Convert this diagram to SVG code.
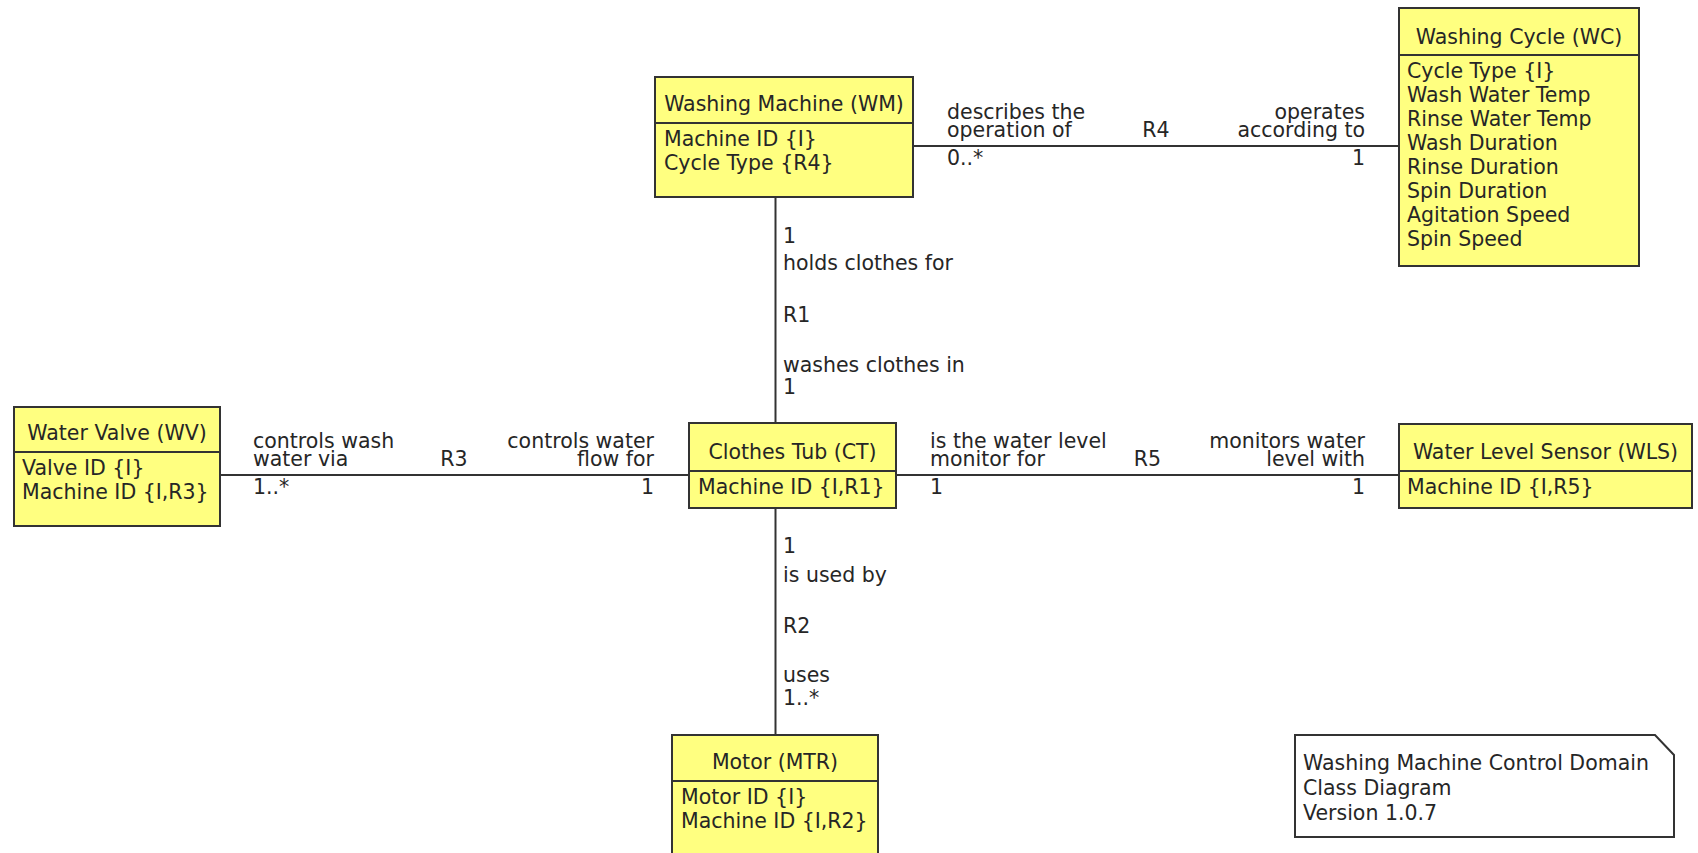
<svg xmlns="http://www.w3.org/2000/svg" width="1698" height="853" viewBox="0 0 1698 853">
<style>
.box{fill:#ffff80;stroke:#333;stroke-width:2}
.div{stroke:#333;stroke-width:2}
.conn{stroke:#333;stroke-width:2;fill:none}
.note{fill:#fff;stroke:#333;stroke-width:2}
text{font-family:"DejaVu Sans",sans-serif;font-size:20.5px;fill:#262626}
.h{text-anchor:middle}
.e{text-anchor:end}
</style>
<rect width="1698" height="853" fill="#fff"/>
<g id="connectors">
<line class="conn" x1="913" y1="146" x2="1399" y2="146"/>
<line class="conn" x1="220" y1="475" x2="689" y2="475"/>
<line class="conn" x1="896" y1="475" x2="1399" y2="475"/>
<line class="conn" x1="775.5" y1="197" x2="775.5" y2="423"/>
<line class="conn" x1="775.5" y1="508" x2="775.5" y2="735"/>
<g id="R4-labels">
<text x="947" y="119">describes the</text>
<text x="947" y="137">operation of</text>
<text x="1156" y="137" class="h">R4</text>
<text x="1365" y="119" class="e">operates</text>
<text x="1365" y="137" class="e">according to</text>
<text x="947" y="165">0..*</text>
<text x="1365" y="165" class="e">1</text>
</g>
<g id="R3-labels">
<text x="253" y="448">controls wash</text>
<text x="253" y="466">water via</text>
<text x="454" y="466" class="h">R3</text>
<text x="654" y="448" class="e">controls water</text>
<text x="654" y="466" class="e">flow for</text>
<text x="253" y="494">1..*</text>
<text x="654" y="494" class="e">1</text>
</g>
<g id="R5-labels">
<text x="930" y="448">is the water level</text>
<text x="930" y="466">monitor for</text>
<text x="1147.5" y="466" class="h">R5</text>
<text x="1365" y="448" class="e">monitors water</text>
<text x="1365" y="466" class="e">level with</text>
<text x="930" y="494">1</text>
<text x="1365" y="494" class="e">1</text>
</g>
<g id="R1-labels">
<text x="783" y="243">1</text>
<text x="783" y="270">holds clothes for</text>
<text x="783" y="322">R1</text>
<text x="783" y="372">washes clothes in</text>
<text x="783" y="394">1</text>
</g>
<g id="R2-labels">
<text x="783" y="553">1</text>
<text x="783" y="582">is used by</text>
<text x="783" y="633">R2</text>
<text x="783" y="682">uses</text>
<text x="783" y="705">1..*</text>
</g>
</g>
<g id="WM">
<rect class="box" x="655" y="77" width="258" height="120"/>
<line class="div" x1="655" y1="123" x2="913" y2="123"/>
<text x="784" y="111" class="h">Washing Machine (WM)</text>
<text x="664" y="146">Machine ID  {I}</text>
<text x="664" y="170">Cycle Type {R4}</text>
</g>
<g id="WC">
<rect class="box" x="1399" y="8" width="240" height="258"/>
<line class="div" x1="1399" y1="55" x2="1639" y2="55"/>
<text x="1519" y="44" class="h">Washing Cycle (WC)</text>
<text x="1407" y="78">Cycle Type {I}</text>
<text x="1407" y="102">Wash Water Temp</text>
<text x="1407" y="126">Rinse Water Temp</text>
<text x="1407" y="150">Wash Duration</text>
<text x="1407" y="174">Rinse Duration</text>
<text x="1407" y="198">Spin Duration</text>
<text x="1407" y="222">Agitation Speed</text>
<text x="1407" y="246">Spin Speed</text>
</g>
<g id="WV">
<rect class="box" x="14" y="407" width="206" height="119"/>
<line class="div" x1="14" y1="452" x2="220" y2="452"/>
<text x="117" y="440" class="h">Water Valve (WV)</text>
<text x="22" y="475">Valve ID  {I}</text>
<text x="22" y="499">Machine ID  {I,R3}</text>
</g>
<g id="CT">
<rect class="box" x="689" y="423" width="207" height="85"/>
<line class="div" x1="689" y1="471" x2="896" y2="471"/>
<text x="792.5" y="459" class="h">Clothes Tub (CT)</text>
<text x="698" y="494">Machine ID  {I,R1}</text>
</g>
<g id="MTR">
<rect class="box" x="672" y="735" width="206" height="120"/>
<line class="div" x1="672" y1="781" x2="878" y2="781"/>
<text x="775" y="769" class="h">Motor (MTR)</text>
<text x="681" y="804">Motor ID  {I}</text>
<text x="681" y="828">Machine ID  {I,R2}</text>
</g>
<g id="WLS">
<rect class="box" x="1399" y="424" width="293" height="84"/>
<line class="div" x1="1399" y1="471" x2="1692" y2="471"/>
<text x="1545.5" y="459" class="h">Water Level Sensor (WLS)</text>
<text x="1407" y="494">Machine ID  {I,R5}</text>
</g>
<g id="note">
<path class="note" d="M1295,735 H1655 L1674,755 V837 H1295 Z"/>
<text x="1303" y="770">Washing Machine Control Domain</text>
<text x="1303" y="795">Class Diagram</text>
<text x="1303" y="820">Version 1.0.7</text>
</g>
</svg>
